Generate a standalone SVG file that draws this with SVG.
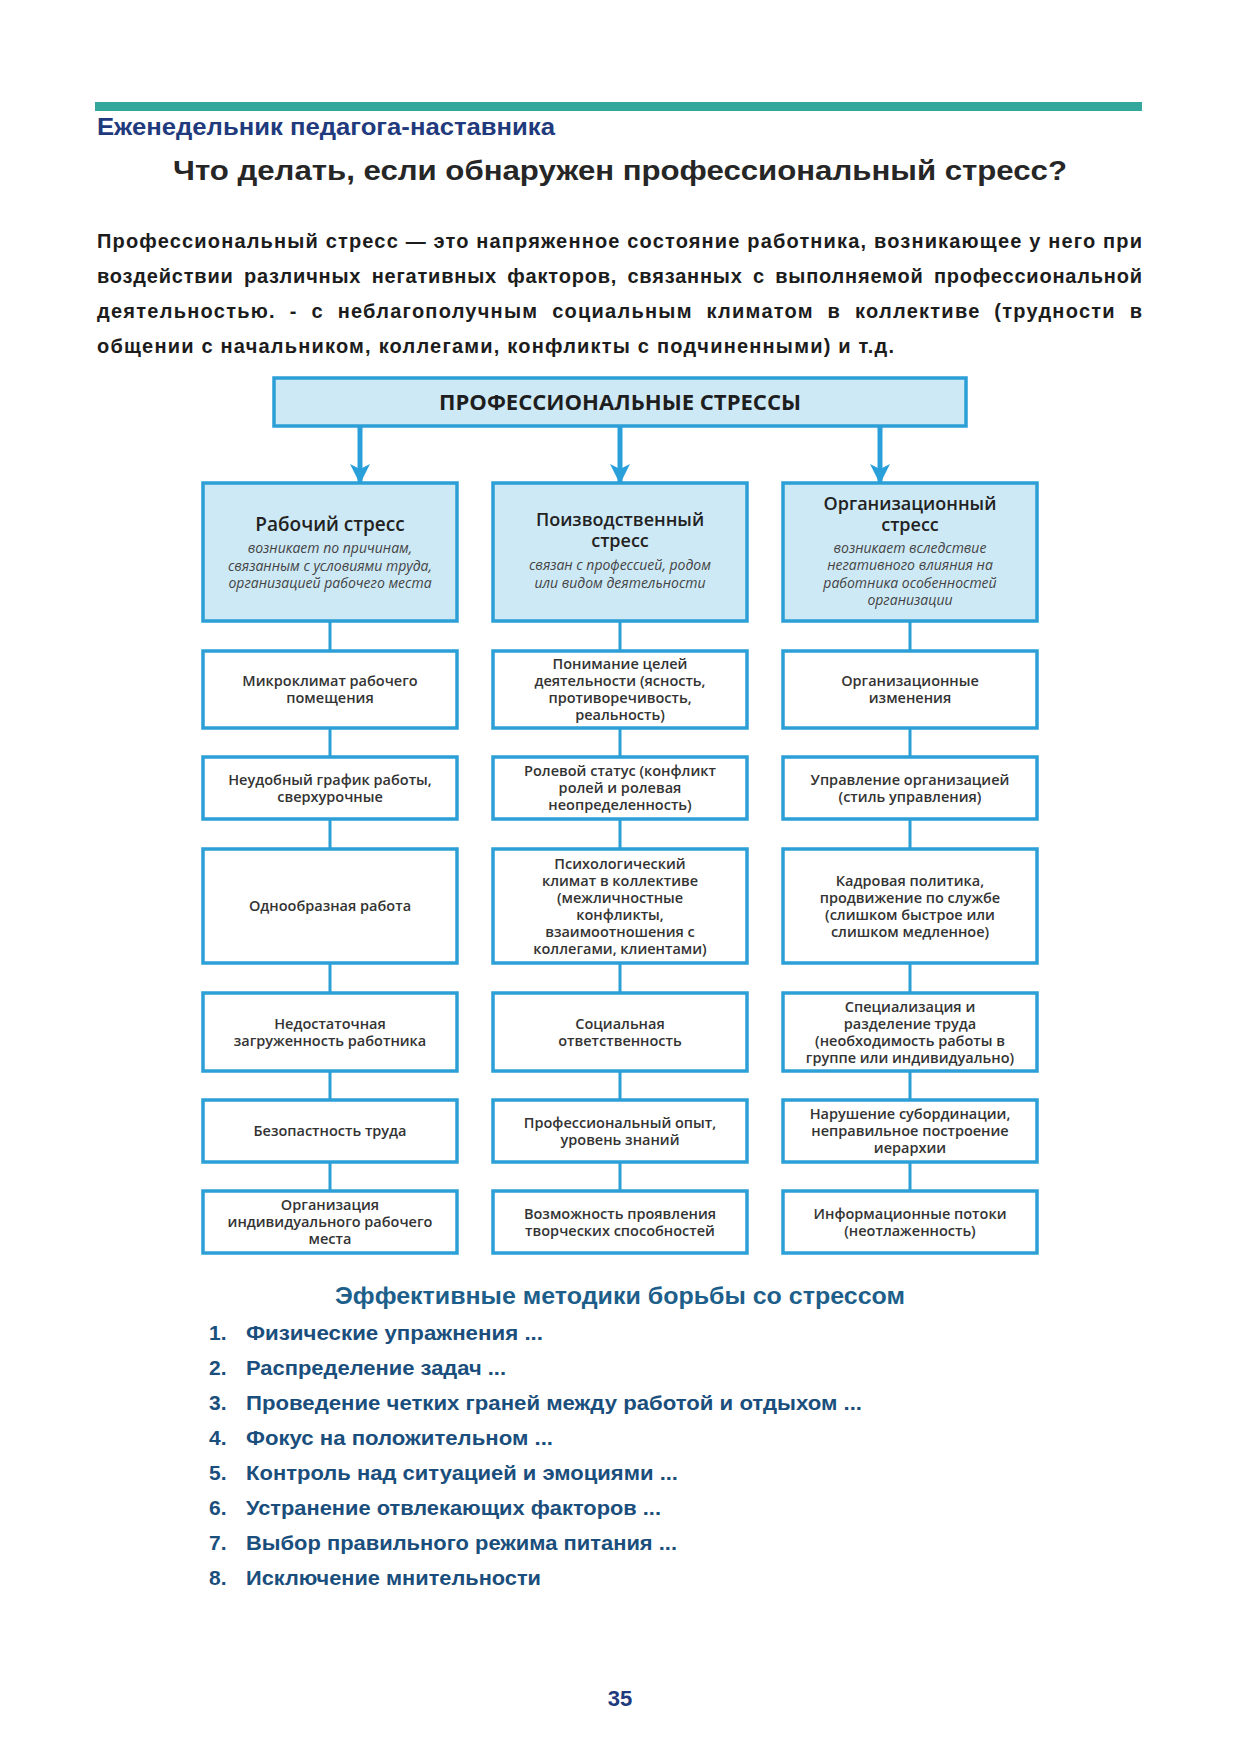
<svg xmlns="http://www.w3.org/2000/svg" width="1240" height="1754" viewBox="0 0 1240 1754">
<style>
.page{font-family:"Liberation Sans",Arial,sans-serif;font-weight:bold}
.para{font-family:"Liberation Sans",Arial,sans-serif;font-weight:bold;font-size:20px;fill:#1c1c1c}
.list{font-family:"Liberation Sans",Arial,sans-serif;font-weight:bold;font-size:21px;fill:#1a4e7c}
.hdr{fill:#cde9f6;stroke:#2b9fd6;stroke-width:3.5}
.box{fill:#ffffff;stroke:#2b9fd6;stroke-width:3.5}
.t{font-family:"Open Sans","Liberation Sans",sans-serif;font-weight:600;font-size:14.5px;fill:#333;text-anchor:middle}
.h{font-family:"Open Sans","Liberation Sans",sans-serif;font-weight:600;font-size:19px;fill:#222;text-anchor:middle}
.h2{font-family:"Open Sans","Liberation Sans",sans-serif;font-weight:600;font-size:18px;fill:#222;text-anchor:middle}
.i{font-family:"Open Sans","Liberation Sans",sans-serif;font-style:italic;font-size:14px;fill:#444;text-anchor:middle}
.con{stroke:#2b9fd6;stroke-width:3;fill:none}
.arr{stroke:#2aa0da;stroke-width:5;fill:none}
</style>
<defs>
<marker id="ah" viewBox="0 0 10 10" refX="9" refY="5" markerWidth="4" markerHeight="4.5" orient="auto" markerUnits="strokeWidth">
<path d="M0,0 L10,5 L0,10 L2.5,5 z" fill="#2aa0da"/>
</marker>
</defs>
<rect x="95" y="102" width="1047" height="9" fill="#34a79d"/>
<text class="page" x="97" y="135" font-size="23" fill="#1f3a7d" textLength="458" lengthAdjust="spacingAndGlyphs">Еженедельник педагога-наставника</text>
<text class="page" x="620" y="180" font-size="28" fill="#262626" text-anchor="middle" textLength="894" lengthAdjust="spacingAndGlyphs">Что делать, если обнаружен профессиональный стресс?</text>
<text class="para" x="97" y="248" textLength="1045" lengthAdjust="spacing">Профессиональный стресс — это напряженное состояние работника, возникающее у него при</text>
<text class="para" x="97" y="283" word-spacing="4" textLength="1045" lengthAdjust="spacing">воздействии различных негативных факторов, связанных с выполняемой профессиональной</text>
<text class="para" x="97" y="318" word-spacing="7" textLength="1045" lengthAdjust="spacing">деятельностью. - с неблагополучным социальным климатом в коллективе (трудности в</text>
<text class="para" x="97" y="353" textLength="797" lengthAdjust="spacing">общении с начальником, коллегами, конфликты с подчиненными) и т.д.</text>

<g id="connectors">
<line class="arr" x1="360" y1="426" x2="360" y2="482" marker-end="url(#ah)"/>
<line class="arr" x1="620" y1="426" x2="620" y2="482" marker-end="url(#ah)"/>
<line class="arr" x1="880" y1="426" x2="880" y2="482" marker-end="url(#ah)"/>
<path class="con" d="M330,621V651M330,728V757M330,819V849M330,963V993M330,1071V1100M330,1162V1191"/>
<path class="con" d="M620,621V651M620,728V757M620,819V849M620,963V993M620,1071V1100M620,1162V1191"/>
<path class="con" d="M910,621V651M910,728V757M910,819V849M910,963V993M910,1071V1100M910,1162V1191"/>
</g>

<g id="root">
<rect class="hdr" x="274" y="378" width="692" height="48"/>
<text x="620" y="410" font-family="Open Sans, Liberation Sans, sans-serif" font-weight="bold" font-size="21" fill="#1e1e1e" text-anchor="middle" textLength="362" lengthAdjust="spacingAndGlyphs">ПРОФЕССИОНАЛЬНЫЕ СТРЕССЫ</text>
</g>

<g id="c1h">
<rect class="hdr" x="203" y="483" width="254" height="138"/>
<text class="h" x="330" y="531">Рабочий стресс</text>
<text class="i" x="330" y="553">возникает по причинам,</text>
<text class="i" x="330" y="571">связанным с условиями труда,</text>
<text class="i" x="330" y="588">организацией рабочего места</text>
</g>
<g id="c2h">
<rect class="hdr" x="493" y="483" width="254" height="138"/>
<text class="h2" x="620" y="526">Поизводственный</text>
<text class="h2" x="620" y="547">стресс</text>
<text class="i" x="620" y="570">связан с профессией, родом</text>
<text class="i" x="620" y="588">или видом деятельности</text>
</g>
<g id="c3h">
<rect class="hdr" x="783" y="483" width="254" height="138"/>
<text class="h2" x="910" y="510">Организационный</text>
<text class="h2" x="910" y="531">стресс</text>
<text class="i" x="910" y="553">возникает вследствие</text>
<text class="i" x="910" y="570">негативного влияния на</text>
<text class="i" x="910" y="588">работника особенностей</text>
<text class="i" x="910" y="605">организации</text>
</g>

<g id="c1r1"><rect class="box" x="203" y="651" width="254" height="77"/>
<text class="t" x="330" y="686">Микроклимат рабочего</text><text class="t" x="330" y="703">помещения</text></g>
<g id="c2r1"><rect class="box" x="493" y="651" width="254" height="77"/>
<text class="t" x="620" y="669">Понимание целей</text><text class="t" x="620" y="686">деятельности (ясность,</text><text class="t" x="620" y="703">противоречивость,</text><text class="t" x="620" y="720">реальность)</text></g>
<g id="c3r1"><rect class="box" x="783" y="651" width="254" height="77"/>
<text class="t" x="910" y="686">Организационные</text><text class="t" x="910" y="703">изменения</text></g>

<g id="c1r2"><rect class="box" x="203" y="757" width="254" height="62"/>
<text class="t" x="330" y="784.5">Неудобный график работы,</text><text class="t" x="330" y="801.5">сверхурочные</text></g>
<g id="c2r2"><rect class="box" x="493" y="757" width="254" height="62"/>
<text class="t" x="620" y="776">Ролевой статус (конфликт</text><text class="t" x="620" y="793">ролей и ролевая</text><text class="t" x="620" y="810">неопределенность)</text></g>
<g id="c3r2"><rect class="box" x="783" y="757" width="254" height="62"/>
<text class="t" x="910" y="784.5">Управление организацией</text><text class="t" x="910" y="801.5">(стиль управления)</text></g>

<g id="c1r3"><rect class="box" x="203" y="849" width="254" height="114"/>
<text class="t" x="330" y="911">Однообразная работа</text></g>
<g id="c2r3"><rect class="box" x="493" y="849" width="254" height="114"/>
<text class="t" x="620" y="868.5">Психологический</text><text class="t" x="620" y="885.5">климат в коллективе</text><text class="t" x="620" y="902.5">(межличностные</text><text class="t" x="620" y="919.5">конфликты,</text><text class="t" x="620" y="936.5">взаимоотношения с</text><text class="t" x="620" y="953.5">коллегами, клиентами)</text></g>
<g id="c3r3"><rect class="box" x="783" y="849" width="254" height="114"/>
<text class="t" x="910" y="885.5">Кадровая политика,</text><text class="t" x="910" y="902.5">продвижение по службе</text><text class="t" x="910" y="919.5">(слишком быстрое или</text><text class="t" x="910" y="936.5">слишком медленное)</text></g>

<g id="c1r4"><rect class="box" x="203" y="993" width="254" height="78"/>
<text class="t" x="330" y="1028.5">Недостаточная</text><text class="t" x="330" y="1045.5">загруженность работника</text></g>
<g id="c2r4"><rect class="box" x="493" y="993" width="254" height="78"/>
<text class="t" x="620" y="1028.5">Социальная</text><text class="t" x="620" y="1045.5">ответственность</text></g>
<g id="c3r4"><rect class="box" x="783" y="993" width="254" height="78"/>
<text class="t" x="910" y="1011.5">Специализация и</text><text class="t" x="910" y="1028.5">разделение труда</text><text class="t" x="910" y="1045.5">(необходимость работы в</text><text class="t" x="910" y="1062.5">группе или индивидуально)</text></g>

<g id="c1r5"><rect class="box" x="203" y="1100" width="254" height="62"/>
<text class="t" x="330" y="1136">Безопастность труда</text></g>
<g id="c2r5"><rect class="box" x="493" y="1100" width="254" height="62"/>
<text class="t" x="620" y="1127.5">Профессиональный опыт,</text><text class="t" x="620" y="1144.5">уровень знаний</text></g>
<g id="c3r5"><rect class="box" x="783" y="1100" width="254" height="62"/>
<text class="t" x="910" y="1119">Нарушение субординации,</text><text class="t" x="910" y="1136">неправильное построение</text><text class="t" x="910" y="1153">иерархии</text></g>

<g id="c1r6"><rect class="box" x="203" y="1191" width="254" height="62"/>
<text class="t" x="330" y="1210">Организация</text><text class="t" x="330" y="1227">индивидуального рабочего</text><text class="t" x="330" y="1244">места</text></g>
<g id="c2r6"><rect class="box" x="493" y="1191" width="254" height="62"/>
<text class="t" x="620" y="1218.5">Возможность проявления</text><text class="t" x="620" y="1235.5">творческих способностей</text></g>
<g id="c3r6"><rect class="box" x="783" y="1191" width="254" height="62"/>
<text class="t" x="910" y="1218.5">Информационные потоки</text><text class="t" x="910" y="1235.5">(неотлаженность)</text></g>

<text class="page" x="620" y="1304" font-size="24" fill="#1d5f8a" text-anchor="middle" textLength="570" lengthAdjust="spacingAndGlyphs">Эффективные методики борьбы со стрессом</text>
<g class="list">
<text x="209" y="1340">1.</text><text x="246" y="1340" textLength="297" lengthAdjust="spacingAndGlyphs">Физические упражнения ...</text>
<text x="209" y="1375">2.</text><text x="246" y="1375" textLength="260" lengthAdjust="spacingAndGlyphs">Распределение задач ...</text>
<text x="209" y="1410">3.</text><text x="246" y="1410" textLength="616" lengthAdjust="spacingAndGlyphs">Проведение четких граней между работой и отдыхом ...</text>
<text x="209" y="1445">4.</text><text x="246" y="1445" textLength="307" lengthAdjust="spacingAndGlyphs">Фокус на положительном ...</text>
<text x="209" y="1480">5.</text><text x="246" y="1480" textLength="432" lengthAdjust="spacingAndGlyphs">Контроль над ситуацией и эмоциями ...</text>
<text x="209" y="1515">6.</text><text x="246" y="1515" textLength="415" lengthAdjust="spacingAndGlyphs">Устранение отвлекающих факторов ...</text>
<text x="209" y="1550">7.</text><text x="246" y="1550" textLength="431" lengthAdjust="spacingAndGlyphs">Выбор правильного режима питания ...</text>
<text x="209" y="1585">8.</text><text x="246" y="1585" textLength="295" lengthAdjust="spacingAndGlyphs">Исключение мнительности</text>
</g>
<text class="page" x="620" y="1706" font-size="22" fill="#1f3a7d" text-anchor="middle">35</text>
</svg>
